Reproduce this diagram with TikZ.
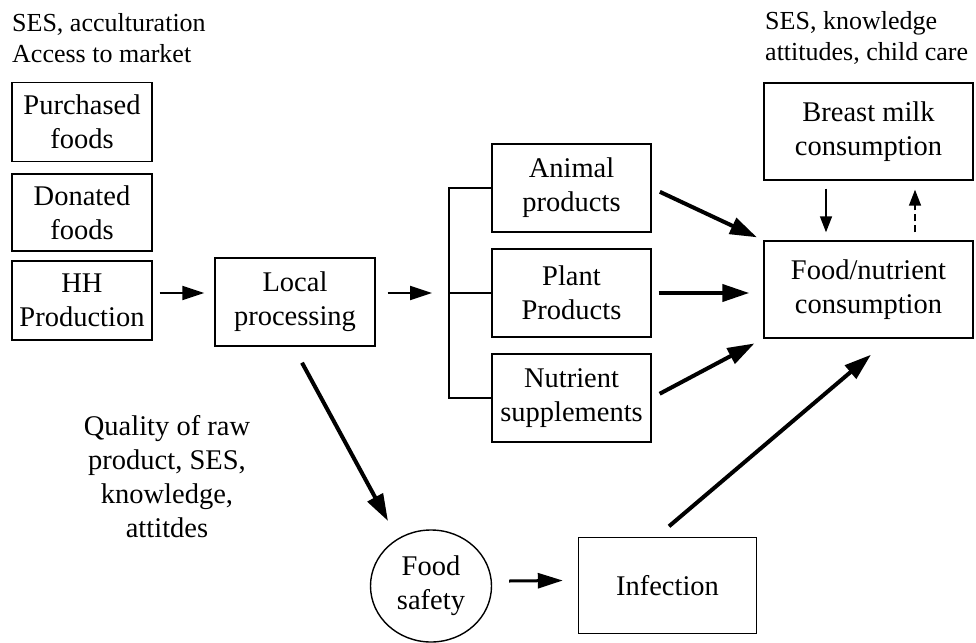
\documentclass[tikz,border=0pt]{standalone}
\usepackage{fontspec}
\setmainfont{Liberation Serif}
\usetikzlibrary{arrows.meta,calc,shapes.geometric}
\begin{document}
\begin{tikzpicture}[x=1pt,y=-1pt,
  box/.style={draw,line width=1.4pt,align=center,inner sep=0pt,
    font=\fontsize{28.5}{34}\selectfont},
  lbl/.style={align=left,inner sep=0pt,font=\fontsize{26}{30.5}\selectfont},
  note/.style={align=center,inner sep=0pt,font=\fontsize{28.5}{34}\selectfont},
  branch/.style={line width=1.4pt},
  smallarr/.style={line width=2pt,-{Triangle[length=22pt,width=14pt]}},
  midarr/.style={line width=3pt,-{Triangle[length=25pt,width=15pt]}},
  boldarr/.style={line width=4pt,-{Triangle[length=27pt,width=17pt]}},
  fbarr/.style={line width=1.5pt,-{Triangle[length=16pt,width=12pt]}}
]
\useasboundingbox (0,0) rectangle (976,642);

% context labels
\node[lbl,anchor=west] (ctxL) at (12,38) {SES, acculturation\\Access to market};
\node[lbl,anchor=west] (ctxR) at (765,38) {SES, knowledge\\attitudes, child care};
\node[note] (ctxQ) at (167,477) {Quality of raw\\product, SES,\\knowledge,\\attitdes};

% food sources
\node[box,minimum width=140pt,minimum height=79pt] (purch) at (82,122) {Purchased\\foods};
\node[box,minimum width=140pt,minimum height=77pt] (donat) at (82,212.5) {Donated\\foods};
\node[box,minimum width=140pt,minimum height=79pt] (hh) at (82,300.5) {HH\\Production};

\node[box,minimum width=160pt,minimum height=88pt] (local) at (295,302) {Local\\processing};

% product groups
\node[box,minimum width=159pt,minimum height=88pt] (animal) at (571.5,188) {Animal\\products};
\node[box,minimum width=159pt,minimum height=88pt] (plant) at (571.5,293) {Plant\\Products};
\node[box,minimum width=159pt,minimum height=88pt] (nutr) at (571.5,398) {Nutrient\\supplements};

% consumption
\node[box,minimum width=209pt,minimum height=97pt] (breast) at (868.5,131.5) {Breast milk\\consumption};
\node[box,minimum width=209pt,minimum height=97pt] (food) at (868.5,289.5) {Food/nutrient\\consumption};

% safety and infection
\node[draw,ellipse,line width=1.4pt,minimum width=121pt,minimum height=112pt,inner sep=0pt,
  align=center,font=\fontsize{28.5}{34}\selectfont] (safety) at (431,586) {Food\\safety};
\node[box,minimum width=178pt,minimum height=96pt] (infect) at (667.5,585.5) {Infection};

% branching bracket
\coordinate (jT) at (449,188);
\coordinate (jM) at (449,293);
\coordinate (jB) at (449,398);
\draw[branch] (animal.west) -- (jT) -- (jB) -- (nutr.west);
\draw[branch] (jM) -- (plant.west);

% flows
\draw[smallarr] ($(hh.east |- jM)+(7,0)$) -- ($(local.west |- jM)+(-10,0)$);
\draw[smallarr] ($(local.east |- jM)+(12,0)$) -- ($(jM)+(-17,0)$);

\draw[boldarr,shorten <=9pt,shorten >=7pt] (animal.east) -- (food.north west);
\draw[boldarr,shorten <=7pt,shorten >=14pt] (plant.east) -- (plant.east -| food.west);
\draw[boldarr,shorten <=9pt,shorten >=10pt] (nutr.east) -- (food.south west);

\draw[boldarr] ($(local.south)+(7,16)$) -- ($(safety.center)+(-43,-65)$);
\draw[midarr] ($(safety.east)+(17,-5)$) -- ($(infect.west)+(-15,-5)$);
\draw[boldarr] ($(infect.north)+(1.5,-10.5)$) -- ($(food.south)+(2.5,16)$);

% breast milk feedback
\draw[fbarr] ($(breast.south)+(-42.5,8)$) -- ($(food.north)+(-42.5,-8)$);
\draw[fbarr,dash pattern=on 7pt off 4pt] ($(food.north)+(46.5,-8)$) -- ($(breast.south)+(46.5,9)$);
\end{tikzpicture}
\end{document}
